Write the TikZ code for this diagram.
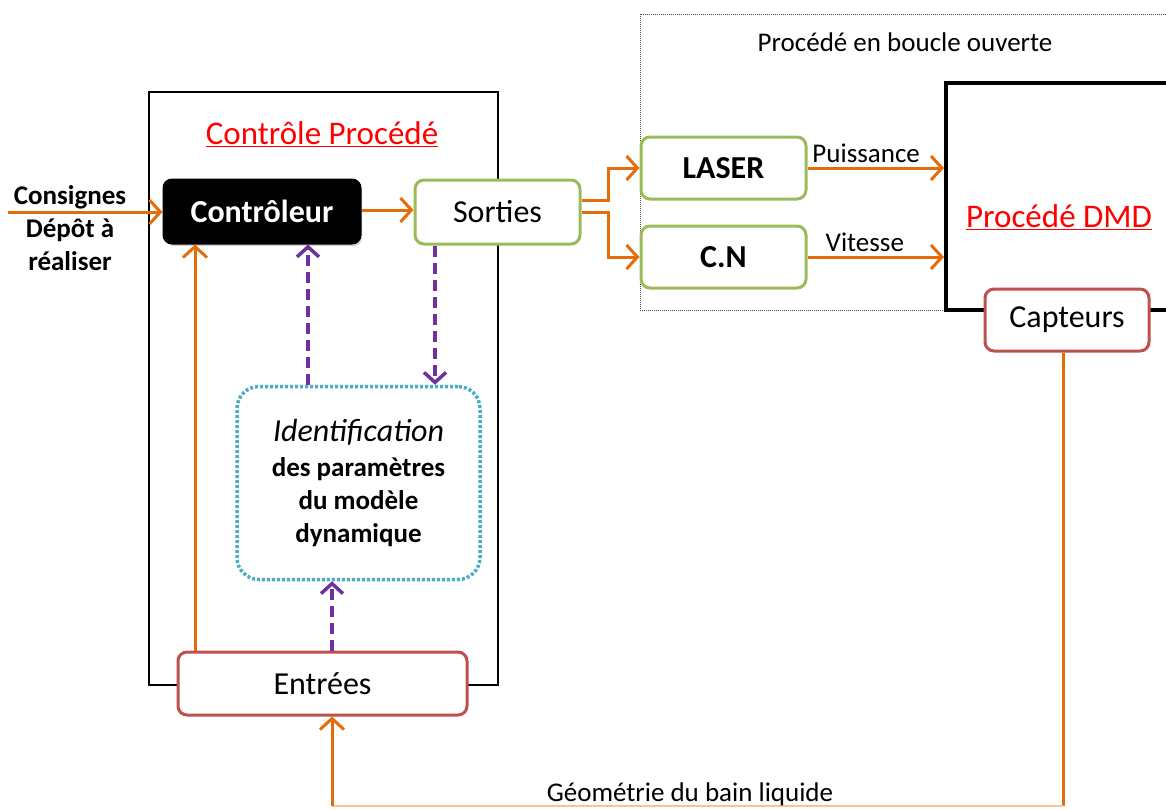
\documentclass[tikz,border=0pt]{standalone}
\usepackage{fontspec}
\setmainfont{Carlito}
\usetikzlibrary{arrows.meta,shadows}
\definecolor{orng}{HTML}{E46C0A}
\definecolor{grn}{HTML}{9BBB59}
\definecolor{rd}{HTML}{C0504D}
\definecolor{cyn}{HTML}{4BACC6}
\definecolor{purp}{HTML}{7030A0}
\definecolor{titred}{HTML}{FF0000}
\tikzset{
  box/.style={draw, line width=3pt, rounded corners=9pt, fill=white, align=center, inner sep=0pt},
  greenbox/.style={box, draw=grn},
  redbox/.style={box, draw=rd},
  arr/.style={draw=orng, line width=3pt, -{Straight Barb[length=11pt,width=24pt,line width=3pt]}},
  oline/.style={draw=orng, line width=3pt},
  parr/.style={draw=purp, line width=3.5pt, dash pattern=on 11pt off 6pt, -{Straight Barb[length=10pt,width=22pt,line width=3.5pt]}},
  lbl/.style={font=\fontsize{27}{30}\selectfont, inner sep=0pt},
  boxfont/.style={font=\fontsize{32}{36}\selectfont},
  boxbold/.style={font=\bfseries\fontsize{32}{36}\selectfont},
  titlefont/.style={inner sep=0pt, text=titred, font=\fontsize{33}{36}\selectfont},
}
\begin{document}
\begin{tikzpicture}[x=1pt,y=-1pt]
\useasboundingbox (0,0) rectangle (1166,809);
\clip (0,0) rectangle (1166,809);

% outer dotted box
\node[draw=black!70, densely dotted, line width=1pt, minimum width=560pt, minimum height=296pt, inner sep=0pt] (boucle) at (920,162) {};
\node[lbl] (boucletxt) at (905,42) {Procédé en boucle ouverte};

% Controle box
\node[draw, line width=2.5pt, minimum width=349pt, minimum height=593pt, inner sep=0pt] (ctlbox) at (323.5,388.5) {};
\node[titlefont] (ctltitle) at (322,134) {\underline{Contrôle Procédé}};

% DMD box
\node[draw, line width=4pt, minimum width=234pt, minimum height=227pt, inner sep=0pt] (dmd) at (1063,196.5) {};
\node[titlefont] (dmdtitle) at (1059,217) {\underline{Procédé DMD}};

% nodes
\node[box, draw=black, fill=black, text=white, minimum width=196pt, minimum height=63pt, rounded corners=8pt,
      boxbold, drop shadow={opacity=0.35, shadow xshift=2pt, shadow yshift=-3pt}] (ctrl) at (262,211.5) {Contrôleur};
\node[greenbox, minimum width=165pt, minimum height=64pt, boxfont] (sorties) at (497.5,212) {Sorties};
\node[box, draw=cyn, dotted, line width=3.5pt, rounded corners=22pt, minimum width=243pt, minimum height=193pt,
      font=\bfseries\fontsize{27}{33}\selectfont] (ident) at (358.5,483)
  {{\mdseries\itshape\fontsize{32}{33}\selectfont Identification}\\[2pt]
   des paramètres\\ du modèle\\ dynamique};
\node[redbox, minimum width=289pt, minimum height=63pt, boxfont] (entrees) at (322.5,683.5) {Entrées};
\node[greenbox, minimum width=165pt, minimum height=62pt, boxbold] (laser) at (723.5,168) {LASER};
\node[greenbox, minimum width=165pt, minimum height=62pt, boxbold] (cn) at (723.5,257) {C.N};
\node[redbox, minimum width=164pt, minimum height=62pt, boxfont] (capteurs) at (1067,320) {Capteurs};

% consignes
\node[inner sep=0pt, align=center, font=\bfseries\fontsize{27}{33}\selectfont] (consignes) at (70,228) {Consignes\\Dépôt à\\réaliser};
\coordinate (cin) at (8,212);

% connectors
\draw[arr] (cin) -- (cin -| ctrl.west);
\draw[arr] (ctrl.east |- 0,210) -- (sorties.west |- 0,210);
\draw[arr] (entrees.north -| 195,0) -- (ctrl.south -| 195,0);
\draw[parr] (ident.north -| 308,0) -- (ctrl.south -| 308,0);
\draw[parr] (sorties.south -| 435,0) -- (ident.north -| 435,0);
\draw[parr] (entrees.north -| 332,0) -- (ident.south -| 332,0);

\draw[arr] (sorties.east |- 0,200) -- (608,200) |- (laser.west);
\draw[arr] (sorties.east |- 0,212) -- (608,212) |- (cn.west);

\draw[arr] (laser.east) -- (laser.east -| dmd.west) node[pos=0.43, above=4pt, lbl] {Puissance};
\draw[arr] (cn.east) -- (cn.east -| dmd.west) node[pos=0.42, above=4pt, lbl] {Vitesse};

% feedback
\coordinate (fbr) at (1063,806);
\coordinate (fbl) at (332,806);
\draw[oline] (capteurs.south -| fbr) -- (fbr);
\draw[draw=orng!40, line width=2pt] (fbr) -- (fbl);
\draw[arr] (fbl) -- (entrees.south -| fbl);
\node[lbl] (geo) at (690,794) {Géométrie du bain liquide};
\end{tikzpicture}
\end{document}
